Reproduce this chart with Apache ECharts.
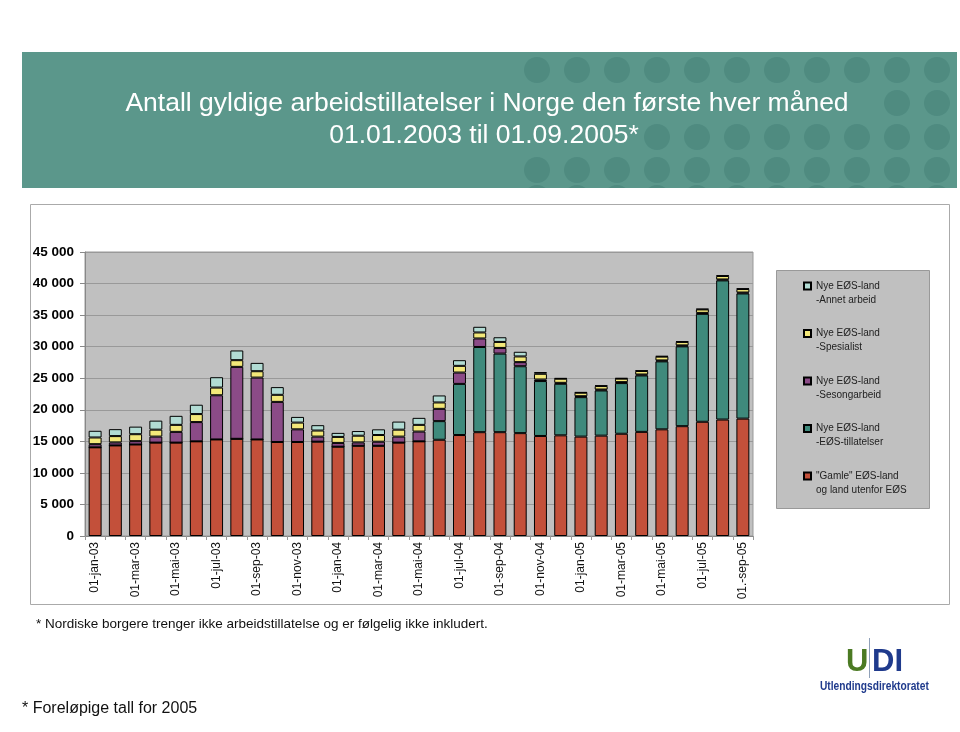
<!DOCTYPE html>
<html><head><meta charset="utf-8">
<script src="https://cdn.jsdelivr.net/npm/echarts@6/dist/echarts.min.js"></script>
<style>html,body{margin:0;padding:0;background:#fff}#c{width:960px;height:732px}</style>
</head><body><div id="c"></div>
<script>
const categories = ['01-jan-03','01-feb-03','01-mar-03','01-apr-03','01-mai-03','01-jun-03','01-jul-03','01-aug-03','01-sep-03','01-okt-03','01-nov-03','01-des-03',
  '01-jan-04','01-feb-04','01-mar-04','01-apr-04','01-mai-04','01-jun-04','01-jul-04','01-aug-04','01-sep-04','01-okt-04','01-nov-04','01-des-04',
  '01-jan-05','01-feb-05','01-mar-05','01-apr-05','01-mai-05','01-jun-05','01-jul-05','01-aug-05','01.-sep-05'];
const gamle = [14050,14350,14500,14800,14800,15000,15300,15400,15300,14900,14900,14950,
  14150,14300,14300,14800,15000,15250,16000,16450,16450,16300,15850,15950,
  15750,15900,16200,16500,16900,17400,18100,18450,18600];
const eosTillatelser = [0,0,0,0,0,0,0,0,0,0,0,0,
  0,0,0,0,0,2950,8100,13500,12450,10600,8700,8170,
  6250,7160,8030,8940,10770,12650,17100,22050,19830];
const sesongarbeid = [500,480,530,950,1700,3050,7000,11400,9800,6350,2000,800,
  600,530,640,950,1550,1950,1800,1350,900,650,250,150,
  150,150,150,150,150,150,150,150,150];
const spesialist = [1060,1000,1100,1100,1110,1270,1220,1060,1010,1120,1070,960,
  950,1060,1060,1100,1060,1010,1060,950,950,900,900,650,
  550,550,550,550,600,550,550,550,550];
const annetArbeid = [1060,1100,1200,1430,1430,1480,1640,1540,1320,1220,900,850,
  640,740,900,1280,1110,1110,900,900,740,740,280,100,
  100,100,100,100,100,100,100,100,100];
const seriesNames = ['"Gamle" EØS-land og land utenfor EØS','Nye EØS-land -EØS-tillatelser','Nye EØS-land -Sesongarbeid','Nye EØS-land -Spesialist','Nye EØS-land -Annet arbeid'];
const legendLines = {
  '"Gamle" EØS-land og land utenfor EØS': ['"Gamle" EØS-land','og land utenfor EØS'],
  'Nye EØS-land -EØS-tillatelser': ['Nye EØS-land','-EØS-tillatelser'],
  'Nye EØS-land -Sesongarbeid': ['Nye EØS-land','-Sesongarbeid'],
  'Nye EØS-land -Spesialist': ['Nye EØS-land','-Spesialist'],
  'Nye EØS-land -Annet arbeid': ['Nye EØS-land','-Annet arbeid']
};
const colors = ['#c3503a','#3f8a7c','#8b4b87','#f3e87a','#b2dcd4'];
const seriesData = [gamle, eosTillatelser, sesongarbeid, spesialist, annetArbeid];

const FONT = '"Liberation Sans", Arial, sans-serif';
const chart = echarts.init(document.getElementById('c'), null, {renderer:'canvas'});

// decorative banner dots
const dots = [];
const dotCols = [537,577,617,657,697,737,777,817,857,897,937];
const dotRows = [{y:70,from:537},{y:103,from:897},{y:137,from:657},{y:170,from:537},{y:198,from:537}];
dotRows.forEach(r => dotCols.forEach(x => { if (x >= r.from) dots.push({type:'ellipse', z:-8, shape:{cx:x, cy:r.y, rx:13, ry:13}, style:{fill:'#4f8b80'}}); }));

const fmt = v => String(v).replace(/\B(?=(\d{3})+(?!\d))/g, ' ');

chart.setOption({
  animation:false,
  textStyle:{fontFamily:FONT},
  grid:{left:85, right:207, top:252, bottom:196, show:true, backgroundColor:'#c0c0c0', borderColor:'#999', borderWidth:1},
  xAxis:{type:'category', data:categories, boundaryGap:true,
    axisLine:{lineStyle:{color:'#888'}},
    axisTick:{show:true, interval:0, length:4, lineStyle:{color:'#999'}},
    axisLabel:{rotate:90, interval:1, fontSize:12, color:'#111', margin:6, fontFamily:FONT}},
  yAxis:{type:'value', min:0, max:45000, interval:5000,
    axisLine:{show:true, lineStyle:{color:'#888'}},
    axisTick:{show:true, length:5, lineStyle:{color:'#888'}},
    splitLine:{lineStyle:{color:'#999'}},
    axisLabel:{formatter:fmt, fontWeight:'bold', fontSize:13.5, color:'#000', margin:11, fontFamily:FONT}},
  legend:{orient:'vertical', left:803, top:265, itemWidth:7, itemHeight:7, itemGap:5.5, icon:'rect',
    selectedMode:false, padding:0,
    data:seriesNames.slice().reverse(),
    formatter: name => ' \n' + legendLines[name][0] + '\n' + legendLines[name][1],
    textStyle:{color:'#222', fontSize:10, lineHeight:14, fontFamily:FONT}},
  series: seriesNames.map((n,i) => ({
    name:n, type:'bar', stack:'total', data:seriesData[i], barCategoryGap:'36%',
    itemStyle:{color:colors[i], borderColor:'#000', borderWidth:1}
  })),
  graphic:[
    {type:'rect', z:-10, shape:{x:22, y:52, width:935, height:136}, style:{fill:'#5b978b'}},
    ...dots,
    {type:'rect', z:-7, shape:{x:0, y:188, width:960, height:16}, style:{fill:'#fff'}},
    {type:'text', z:-6, x:487, y:104, style:{text:'Antall gyldige arbeidstillatelser i Norge den første hver måned', font:'26.5px '+FONT, fill:'#fff', textAlign:'center', textVerticalAlign:'middle'}},
    {type:'text', z:-6, x:484, y:136, style:{text:'01.01.2003 til 01.09.2005*', font:'26.5px '+FONT, fill:'#fff', textAlign:'center', textVerticalAlign:'middle'}},
    {type:'rect', z:-6, shape:{x:30.5, y:204.5, width:919, height:400}, style:{fill:'#fff', stroke:'#aaa', lineWidth:1}},
    {type:'rect', z:-5, shape:{x:776.5, y:270.5, width:153, height:238}, style:{fill:'#c0c0c0', stroke:'#999', lineWidth:1}},
    {type:'text', x:36, y:624, style:{text:'* Nordiske borgere trenger ikke arbeidstillatelse og er følgelig ikke inkludert.', font:'13.5px '+FONT, fill:'#111', textVerticalAlign:'middle'}},
    {type:'text', x:22, y:709, style:{text:'* Foreløpige tall for 2005', font:'16px '+FONT, fill:'#111', textVerticalAlign:'middle'}},
    {type:'text', x:846, y:662, style:{text:'U', font:'bold 31px '+FONT, fill:'#4b7a23', textVerticalAlign:'middle'}},
    {type:'text', x:872, y:662, style:{text:'DI', font:'bold 31px '+FONT, fill:'#1f3a8c', textVerticalAlign:'middle'}},
    {type:'line', shape:{x1:869.5, y1:638, x2:869.5, y2:678}, style:{stroke:'#8fa0b8', lineWidth:1}},
    {type:'text', x:820, y:687, scaleX:0.85, style:{text:'Utlendingsdirektoratet', font:'bold 12px '+FONT, fill:'#1f3a8c', textVerticalAlign:'middle'}}
  ]
});
</script>
</body></html>
